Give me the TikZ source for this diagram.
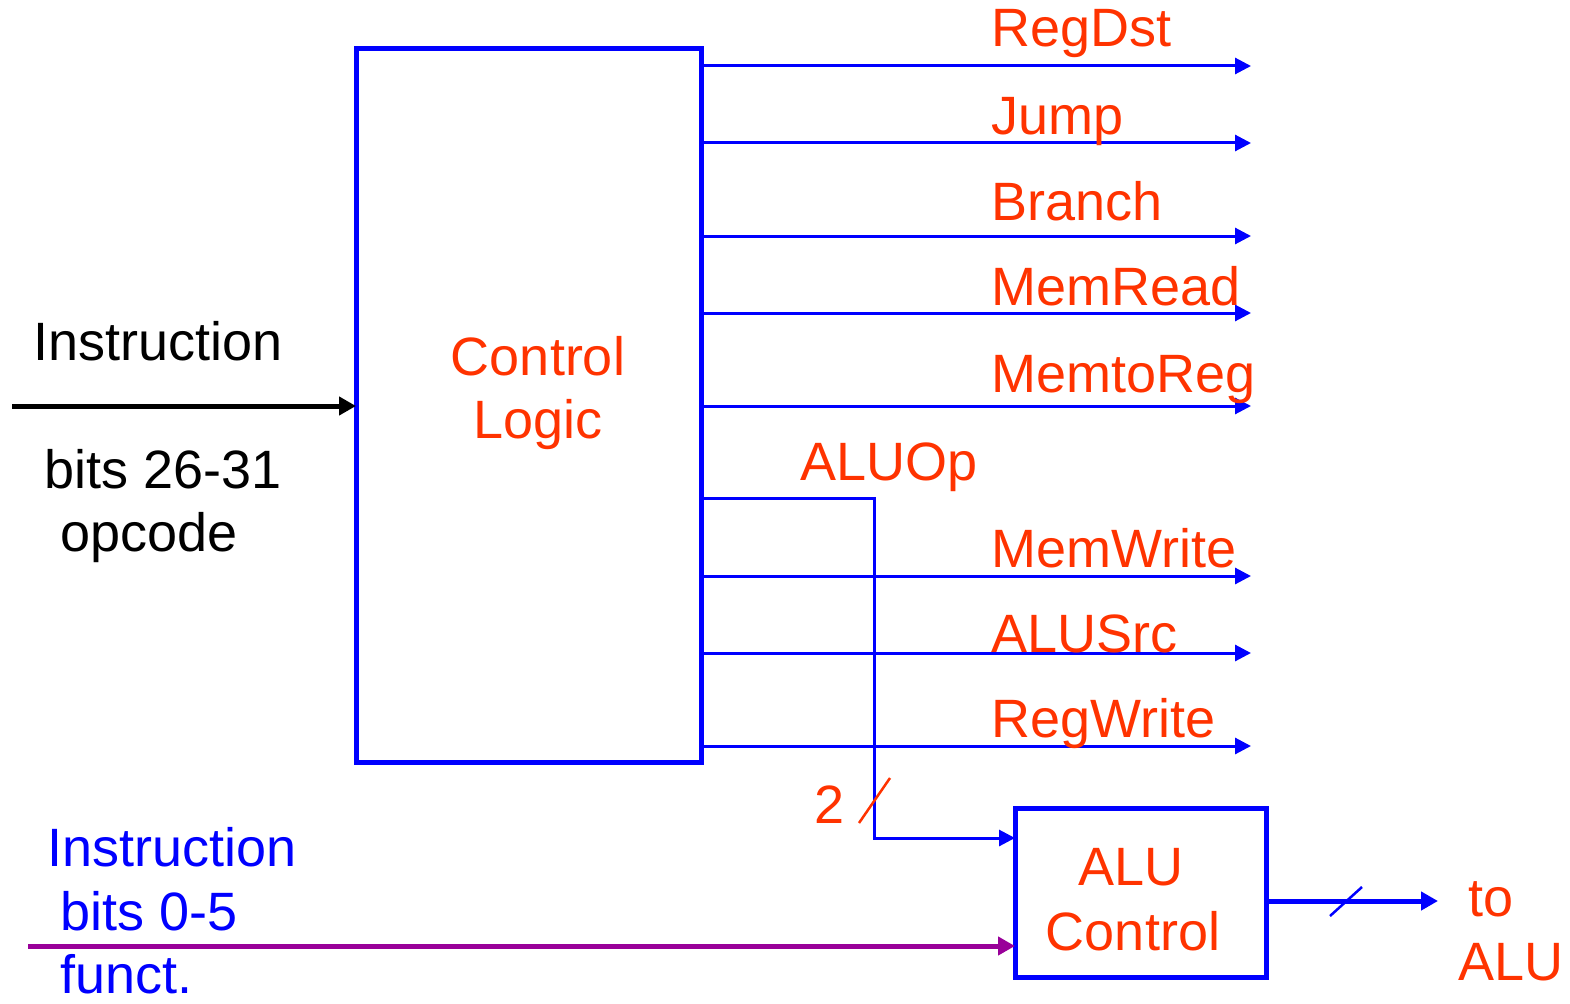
\documentclass[tikz,border=0pt]{standalone}
\usepackage{fontspec}
\setmainfont{Liberation Sans}
\usetikzlibrary{arrows.meta}
\definecolor{sigred}{HTML}{FF3300}
\definecolor{ctlblue}{HTML}{0000FF}
\definecolor{functpurple}{HTML}{990099}
\begin{document}
\begin{tikzpicture}[x=1pt,y=-1pt,
  txt/.style={font=\fontsize{54}{60}\selectfont, inner sep=0, anchor=base west},
  ctr/.style={font=\fontsize{54}{60}\selectfont, inner sep=0, anchor=base},
  unit/.style={draw=ctlblue, line width=5pt, inner sep=0, outer sep=0},
  sig/.style={draw=ctlblue, line width=3pt, -{Triangle[length=16pt,width=16pt]}},
  bus/.style={line width=5pt, -{Triangle[length=17pt,width=18pt]}},
  tick/.style={line width=2.5pt}]
\useasboundingbox (0,0) rectangle (1570,1003);

% main control unit and ALU control unit
\node[unit, minimum width=345pt, minimum height=713pt] (ctrl) at (528.5,405.5) {};
\node[unit, minimum width=251pt, minimum height=169pt] (aluc) at (1140.5,892.5) {};

\node[ctr, text=sigred] (ctrlA) at (538,375) {Control};
\node[ctr, text=sigred] (ctrlB) at (538,438) {Logic};
\node[ctr, text=sigred] (alucA) at (1131,885) {ALU};
\node[ctr, text=sigred] (alucB) at (1133,950) {Control};

% opcode input
\coordinate (opsrc) at (12,406);
\draw[bus, draw=black, fill=black] (opsrc) -- (ctrl.west |- opsrc);
\node[txt] (instA) at (33,360) {Instruction};
\node[txt] (instB) at (44,488) {bits 26-31};
\node[txt] (instC) at (60,551) {opcode};

% control signal outputs
\foreach \name/\ly/\by in {RegDst/66/47, Jump/143/135, Branch/236/220,
    MemRead/313/305, MemtoReg/406/392, MemWrite/576/567,
    ALUSrc/653/652, RegWrite/746/737}{
  \coordinate (out\name) at (1251,\ly);
  \draw[sig] (ctrl.east |- out\name) -- (out\name);
  \node[txt, text=sigred] (lbl\name) at (991,\by) {\name};
}

% ALUOp bus to ALU control
\coordinate (opA) at (874,498);
\coordinate (opB) at (874,838);
\draw[sig] (ctrl.east |- opA) -- (opA) -- (opB) -- (aluc.west |- opB);
\node[txt, text=sigred] (lblALUOp) at (800,480) {ALUOp};
\coordinate (tk1a) at (859,823);
\coordinate (tk1b) at (890,778);
\draw[tick, draw=sigred] (tk1a) -- (tk1b);
\node[txt, text=sigred] (lblTwo) at (814,823) {2};

% funct field input
\coordinate (fnsrc) at (28,946);
\draw[bus, draw=functpurple, fill=functpurple] (fnsrc) -- (aluc.west |- fnsrc);
\node[txt, text=ctlblue] (fnA) at (47,866) {Instruction};
\node[txt, text=ctlblue] (fnB) at (60,930) {bits 0-5};
\node[txt, text=ctlblue] (fnC) at (60,993) {funct.};

% ALU control output
\coordinate (aluout) at (1438,901);
\draw[bus, draw=ctlblue, fill=ctlblue] (aluc.east |- aluout) -- (aluout);
\coordinate (tk2a) at (1330,916);
\coordinate (tk2b) at (1362,887);
\draw[tick, draw=ctlblue] (tk2a) -- (tk2b);
\node[txt, text=sigred] (toA) at (1468,916) {to};
\node[txt, text=sigred] (toB) at (1458,980) {ALU};
\end{tikzpicture}
\end{document}
